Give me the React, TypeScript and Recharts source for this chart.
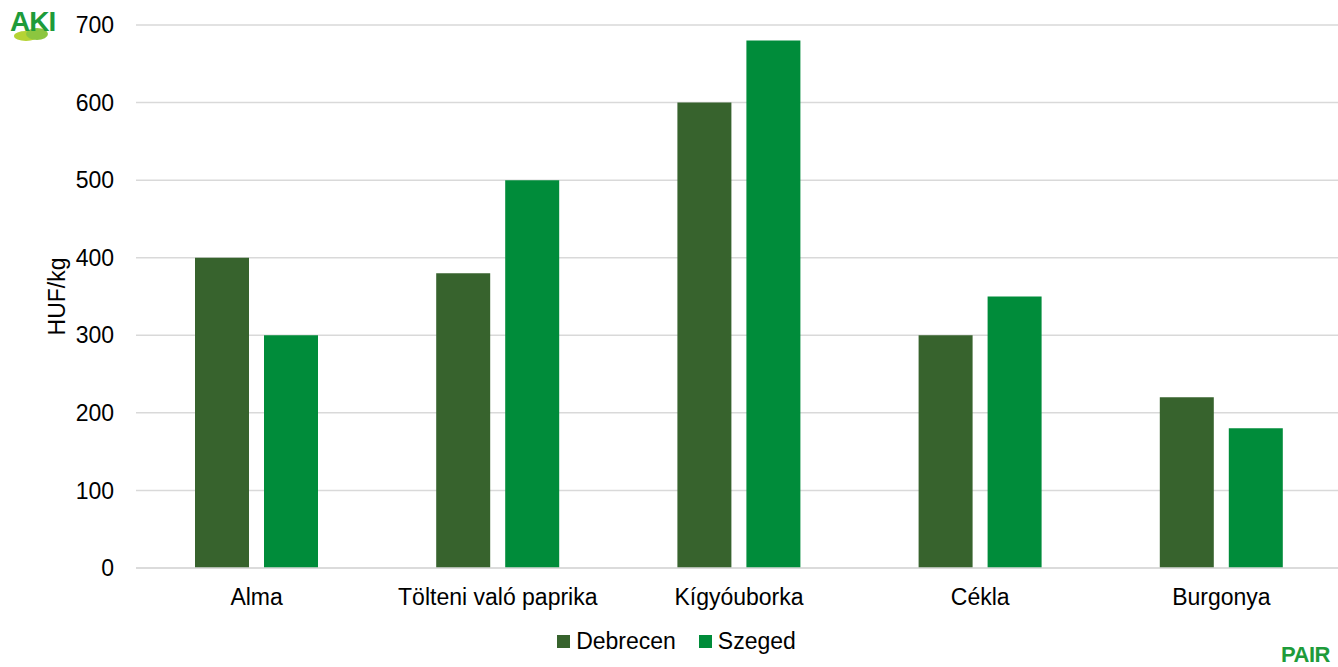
import React from "react";
import { BarChart, Bar, XAxis, YAxis, CartesianGrid, Legend } from "recharts";

const categories = ["Alma", "Tölteni való paprika", "Kígyóuborka", "Cékla", "Burgonya"];
const debrecen = [400, 380, 600, 300, 220];
const szeged = [300, 500, 680, 350, 180];
const yTicks = [0, 100, 200, 300, 400, 500, 600, 700];

const data = categories.map((name, i) => ({ name, Debrecen: debrecen[i], Szeged: szeged[i] }));

const C_DEB = "#37632D";
const C_SZE = "#008C3A";
const FONT = "'Liberation Sans', Arial, sans-serif";

const LegendContent = () => (
  <div
    style={{
      display: "flex",
      justifyContent: "center",
      alignItems: "center",
      fontFamily: FONT,
      fontSize: 23,
      color: "#000",
      height: 40,
      paddingLeft: 15,
      boxSizing: "border-box",
      width: 1338,
      transform: "translateY(-6px)",
    }}
  >
    <span style={{ display: "inline-block", width: 13, height: 13, background: C_DEB, marginRight: 6 }} />
    <span style={{ marginRight: 23 }}>Debrecen</span>
    <span style={{ display: "inline-block", width: 13, height: 13, background: C_SZE, marginRight: 6 }} />
    <span>Szeged</span>
  </div>
);

export default function App() {
  return (
    <div
      style={{
        position: "fixed",
        left: 0,
        top: 0,
        width: 1338,
        height: 667,
        overflow: "hidden",
        background: "#fff",
      }}
    >
      <BarChart
        width={1342}
        height={667}
        data={data}
        margin={{ top: 25, right: 0, bottom: 0, left: 0 }}
        barSize={54}
        barGap={15}
      >
        <CartesianGrid vertical={false} stroke="#D9D9D9" strokeWidth={1.5} />
        <XAxis
          dataKey="name"
          height={59}
          axisLine={{ stroke: "#D9D9D9", strokeWidth: 1.5 }}
          tickLine={false}
          tickSize={0}
          tickMargin={21}
          tick={{ fill: "#000", fontSize: 23, fontFamily: FONT }}
          interval={0}
        />
        <YAxis
          width={136}
          domain={[0, 700]}
          ticks={yTicks}
          axisLine={false}
          tickLine={false}
          tickSize={0}
          tickMargin={22}
          tick={{ fill: "#000", fontSize: 23, fontFamily: FONT }}
          label={{
            value: "HUF/kg",
            angle: -90,
            position: "insideLeft",
            offset: 57,
            style: { textAnchor: "middle", fill: "#000", fontSize: 23, fontFamily: FONT },
          }}
        />
        <Legend
          verticalAlign="bottom"
          wrapperStyle={{ height: 40, left: 0 }}
          content={<LegendContent />}
        />
        <Bar dataKey="Debrecen" fill={C_DEB} isAnimationActive={false} />
        <Bar dataKey="Szeged" fill={C_SZE} isAnimationActive={false} />
      </BarChart>

      <svg
        width={60}
        height={42}
        style={{ position: "absolute", left: 6, top: 4 }}
      >
        <ellipse cx={20} cy={32} rx={12} ry={5} fill="#b5d334" />
        <ellipse cx={31} cy={30} rx={11} ry={6} fill="#8cc63f" />
        <text
          x={4}
          y={27}
          fontFamily={FONT}
          fontWeight={900}
          fontSize={28}
          fill="#1E9B3A"
          letterSpacing={-1}
        >
          AKI
        </text>
      </svg>
      <div
        style={{
          position: "absolute",
          left: 1281,
          top: 645,
          fontFamily: FONT,
          fontWeight: 900,
          fontSize: 22,
          color: "#1E9B3A",
          letterSpacing: -0.5,
          lineHeight: "20px",
        }}
      >
        PAIR
      </div>
    </div>
  );
}
